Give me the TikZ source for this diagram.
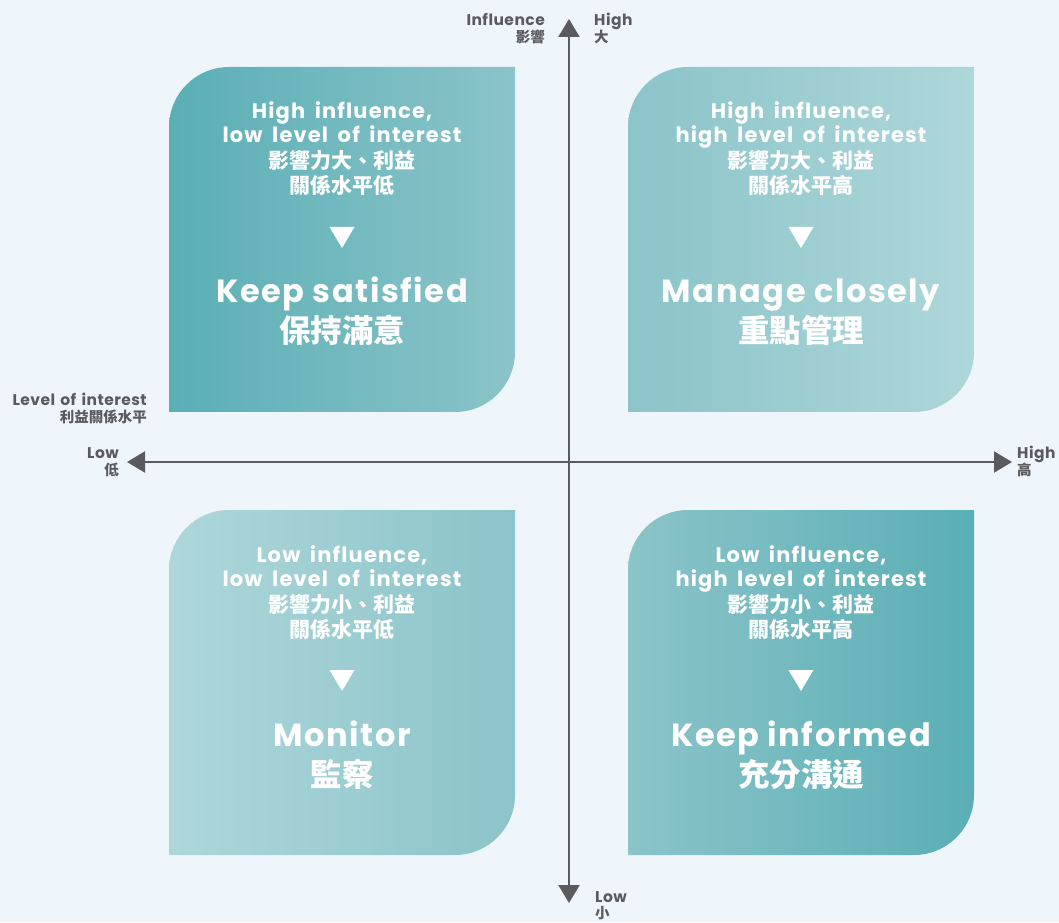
\documentclass[tikz,border=0pt]{standalone}
\usepackage{fontspec}
\setmainfont{Poppins}
\newfontfamily\enfont{Poppins}[LetterSpace=5.5,WordSpace=1.7]
\newfontfamily\bigfont{Poppins}[LetterSpace=5]
\newfontfamily\axfont{Poppins}[LetterSpace=3,WordSpace=1.4]
\newfontfamily\cjk{Noto Sans CJK TC}
\usetikzlibrary{arrows.meta}
\definecolor{bg}{HTML}{EEF6FC}
\definecolor{axisc}{HTML}{5B5A5E}
\definecolor{tdark}{HTML}{5AAFB5}
\definecolor{tmid}{HTML}{8BC4C9}
\definecolor{tlight}{HTML}{AED7DA}
\tikzset{
  en/.style={text=white, font=\enfont\bfseries\fontsize{21}{24}\selectfont, anchor=base, inner sep=0pt},
  zh/.style={text=white, font=\cjk\bfseries\fontsize{21}{24}\selectfont, anchor=base, inner sep=0pt},
  enbig/.style={text=white, font=\bigfont\bfseries\fontsize{32}{38}\selectfont, anchor=base, inner sep=0pt},
  zhbig/.style={text=white, font=\cjk\bfseries\fontsize{31.5}{36}\selectfont, anchor=base, inner sep=0pt},
  ax/.style={text=axisc, font=\axfont\bfseries\fontsize{15.5}{17}\selectfont, inner sep=0pt},
  axzh/.style={text=axisc, font=\cjk\bfseries\fontsize{14.5}{16}\selectfont, inner sep=0pt},
  axisline/.style={draw=axisc, line width=2pt, {Triangle[length=18pt,width=21pt]}-{Triangle[length=18pt,width=21pt]}},
}
\newcommand\quadbox[4]{%
  \shade[left color=#3,right color=#4] (#1,#2-345) -- (#1,#2-60) arc[start angle=180,end angle=90,radius=60pt]
    -- (#1+346,#2) -- (#1+346,#2-285) arc[start angle=0,end angle=-90,radius=60pt] -- cycle;}
\newcommand\quadtext[9]{% #1 name, #2 cx, #3 ytop, #4-#5 en lines, #6-#7 zh lines, #8 big en, #9 big zh
  \node[en] (#1a) at (#2,#3-52) {#4};
  \node[en] (#1b) at (#2,#3-76) {#5};
  \node[zh] (#1c) at (#2,#3-102) {#6};
  \node[zh] (#1d) at (#2,#3-127) {#7};
  \fill[white] (#2-12.5,#3-160) -- (#2+12.5,#3-160) -- (#2,#3-181) -- cycle;
  \node[enbig] (#1e) at (#2,#3-236) {#8};
  \node[zhbig] (#1f) at (#2,#3-276) {#9};}
\begin{document}
\begin{tikzpicture}[x=1pt,y=1pt]
\fill[bg] (0,0) rectangle (1059,922);
\useasboundingbox (0,0) rectangle (1059,922);
% boxes
\quadbox{169}{855}{tdark}{tmid}
\quadbox{628}{855}{tmid}{tlight}
\quadbox{169}{412}{tlight}{tmid}
\quadbox{628}{412}{tmid}{tdark}
% texts
\quadtext{tl}{342}{855}{High influence,}{low level of interest}{影響力大、利益}{關係水平低}{Keep satisfied}{保持滿意}
\quadtext{tr}{801}{855}{High influence,}{high level of interest}{影響力大、利益}{關係水平高}{Manage closely}{重點管理}
\quadtext{bl}{342}{412}{Low influence,}{low level of interest}{影響力小、利益}{關係水平低}{Monitor}{監察}
\quadtext{br}{801}{412}{Low influence,}{high level of interest}{影響力小、利益}{關係水平高}{Keep informed}{充分溝通}
% axes
\coordinate (vtop) at (569,903);
\coordinate (vbot) at (569,19);
\coordinate (hleft) at (127,460);
\coordinate (hright) at (1012,460);
\draw[axisline] (vbot) -- (vtop);
\draw[axisline] (hleft) -- (hright);
% axis labels
\node[ax, anchor=base east] (infl) at (545,896) {Influence};
\node[axzh, anchor=base east] (inflzh) at (545,879) {影響};
\node[ax, anchor=base west] (hi1) at (594,896) {High};
\node[axzh, anchor=base west] (hi1zh) at (594,879) {大};
\node[ax, anchor=base east] (loi) at (147,516) {Level of interest};
\node[axzh, anchor=base east] (loizh) at (147,499) {利益關係水平};
\node[ax, anchor=base east] (lo2) at (119,464) {Low};
\node[axzh, anchor=base east] (lo2zh) at (119,447) {低};
\node[ax, anchor=base west] (hi2) at (1017,464) {High};
\node[axzh, anchor=base west] (hi2zh) at (1017,447) {高};
\node[ax, anchor=base west] (lo1) at (595,20) {Low};
\node[axzh, anchor=base west] (lo1zh) at (595,4) {小};
\end{tikzpicture}
\end{document}
